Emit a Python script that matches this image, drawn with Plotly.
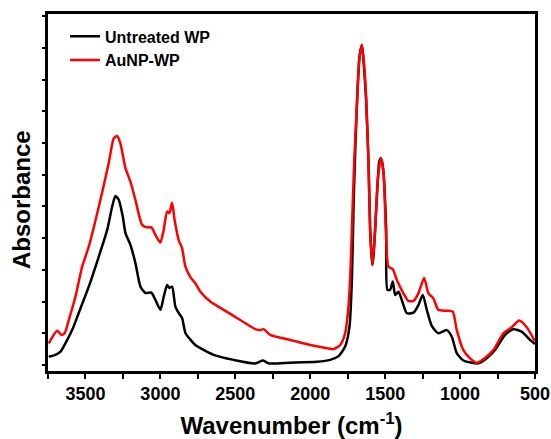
import plotly.graph_objects as go

# Untreated WP (black)
wn_untreated = [3745, 3700, 3667, 3633, 3589, 3545, 3478, 3411, 3355, 3322, 3300, 3278, 3251, 3233,
                3200, 3167, 3133, 3100, 3060, 3033, 3000, 2978, 2955, 2940, 2922, 2900, 2878, 2855,
                2833, 2800, 2767, 2733, 2645, 2511, 2367, 2315, 2278, 2133, 1955, 1867, 1811, 1767,
                1738, 1722, 1710, 1690, 1670, 1655, 1640, 1627, 1611, 1600, 1591, 1585, 1577, 1567,
                1549, 1540, 1529, 1520, 1511, 1493, 1485, 1467, 1449, 1433, 1411, 1389, 1355, 1311,
                1278, 1249, 1222, 1189, 1145, 1089, 1055, 1022, 978, 922, 878, 822, 767, 700, 645,
                589, 533, 500]
abs_untreated = [0.26, 0.32, 0.42, 0.69, 1.10, 1.64, 2.47, 3.42, 4.26, 4.99, 5.33, 5.21, 4.68, 4.16,
                 3.79, 3.22, 2.47, 2.27, 2.28, 2.05, 1.74, 2.15, 2.52, 2.43, 2.47, 1.84, 1.64, 1.48,
                 1.01, 0.80, 0.63, 0.53, 0.32, 0.16, 0.05, 0.14, 0.05, 0.07, 0.10, 0.16, 0.28, 0.58,
                 1.21, 2.68, 5.20, 8.04, 9.78, 10.09, 9.30, 8.36, 6.37, 4.26, 3.47, 3.15, 3.47, 4.26,
                 5.84, 6.40, 6.52, 6.40, 6.06, 4.26, 2.37, 2.37, 2.63, 2.21, 2.31, 2.05, 1.63, 1.65,
                 1.89, 2.21, 1.74, 1.23, 1.00, 1.10, 0.89, 0.37, 0.14, 0.07, 0.05, 0.21, 0.47, 0.95,
                 1.13, 1.05, 0.79, 0.66]

# AuNP-WP (red)
wn_aunp = [3745, 3689, 3660, 3638, 3611, 3567, 3522, 3478, 3411, 3345, 3311, 3289, 3267, 3233,
           3200, 3167, 3122, 3089, 3060, 3033, 3000, 2978, 2955, 2940, 2922, 2905, 2878, 2855,
           2833, 2800, 2767, 2733, 2667, 2578, 2467, 2367, 2333, 2311, 2267, 2133, 2000, 1889,
           1845, 1800, 1767, 1745, 1733, 1722, 1707, 1689, 1673, 1655, 1640, 1627, 1611, 1600,
           1585, 1567, 1549, 1529, 1511, 1493, 1478, 1449, 1422, 1378, 1345, 1311, 1278, 1240,
           1211, 1178, 1145, 1089, 1049, 1022, 978, 933, 889, 845, 778, 711, 655, 605, 555, 507,
           500]
abs_aunp = [0.68, 1.08, 0.95, 1.01, 1.42, 2.15, 3.10, 3.73, 4.99, 6.36, 7.15, 7.22, 6.99, 6.21,
            5.78, 5.21, 4.42, 4.34, 4.34, 4.10, 3.86, 4.26, 4.84, 4.79, 5.12, 4.57, 3.94, 3.68,
            3.10, 2.77, 2.58, 2.31, 2.00, 1.74, 1.42, 1.13, 1.10, 1.13, 0.95, 0.79, 0.63, 0.53,
            0.50, 0.63, 1.00, 1.84, 2.79, 4.26, 6.37, 8.15, 9.62, 10.09, 9.46, 8.46, 6.37, 4.26,
            3.15, 4.26, 5.84, 6.52, 6.06, 3.94, 3.10, 3.02, 2.68, 2.26, 2.02, 2.02, 2.26, 2.74,
            2.26, 2.10, 1.74, 1.71, 1.68, 1.10, 0.47, 0.21, 0.07, 0.18, 0.47, 1.00, 1.19, 1.40,
            1.19, 0.81, 0.76]

FONT = "Liberation Sans, Arial, sans-serif"

fig = go.Figure()
fig.add_trace(go.Scatter(x=wn_untreated, y=abs_untreated, mode="lines", name="Untreated WP",
                         line=dict(color="#000000", width=2.5, shape="spline", smoothing=0.6)))
fig.add_trace(go.Scatter(x=wn_aunp, y=abs_aunp, mode="lines", name="AuNP-WP",
                         line=dict(color="#FF0000", width=2.5, shape="spline", smoothing=0.6)))

fig.update_layout(
    width=551, height=439,
    margin=dict(l=48, r=16, t=14, b=68, autoexpand=False),
    plot_bgcolor="white", paper_bgcolor="white",
    font=dict(family=FONT, color="black"),
    showlegend=True,
    legend=dict(x=0.035, y=0.985, xanchor="left", yanchor="top",
                bgcolor="rgba(0,0,0,0)", font=dict(size=16, family=FONT, weight="bold"),
                tracegroupgap=0, itemwidth=30),
    xaxis=dict(range=[3750, 500], autorange=False, automargin=False,
               showline=True, linewidth=2.5, linecolor="black", mirror=True,
               showgrid=False, zeroline=False,
               ticks="outside", ticklen=5, tickwidth=2, tickcolor="black",
               tick0=500, dtick=500,
               minor=dict(ticks="outside", ticklen=5, tickwidth=2, tickcolor="black", dtick=250),
               tickfont=dict(size=18, family=FONT, weight="bold"),
               title=dict(text="Wavenumber (cm<sup>-1</sup>)",
                          font=dict(size=24, family=FONT, weight="bold"))),
    yaxis=dict(range=[-0.19, 11.07], autorange=False, automargin=False,
               showline=True, linewidth=2.5, linecolor="black", mirror=True,
               showgrid=False, zeroline=False,
               ticks="outside", ticklen=3, tickwidth=1.5, tickcolor="black",
               tick0=0, dtick=1, showticklabels=False),
    annotations=[dict(text="Absorbance", xref="paper", yref="paper", x=0, y=0.479,
                      xanchor="center", yanchor="middle", xshift=-26, textangle=-90,
                      showarrow=False, font=dict(size=24, family=FONT, weight="bold"))],
)

fig.write_html("out.html", config={"displayModeBar": False},
               post_script="document.body.style.margin='0';")
